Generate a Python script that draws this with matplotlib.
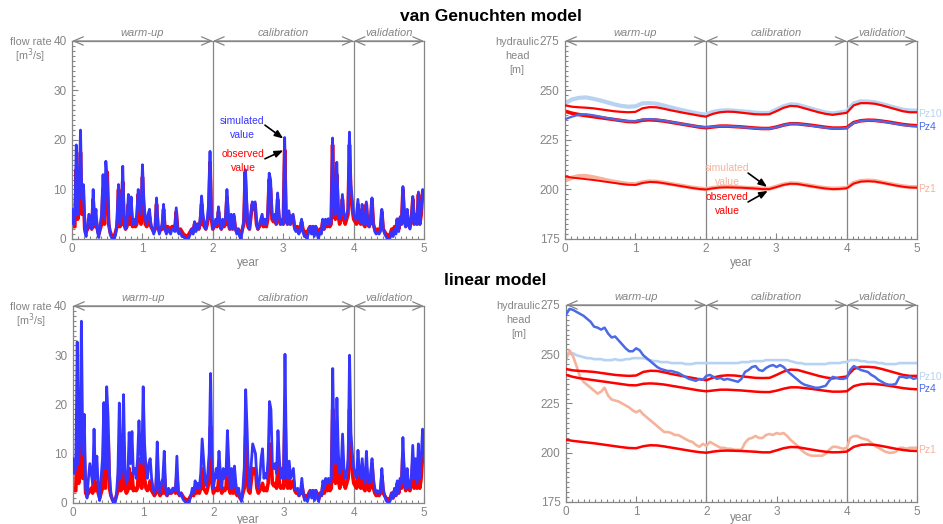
import numpy as np
import matplotlib
matplotlib.use("Agg")
import matplotlib.pyplot as plt
from matplotlib.ticker import MultipleLocator

plt.rcParams['font.family'] = ['Liberation Sans', 'DejaVu Sans']

# ---- flow rate series (weekly sampling, m3/s) ----
flow_years = np.linspace(0, 5, 251)
q_obs = [
    3, 2.5, 2.5, 14, 4, 6, 17.5, 5, 10, 2,
    1.5, 2, 2.5, 3, 2, 8, 2.5, 4, 2, 1,
    2, 3, 10, 3, 11, 13.5, 3, 1.5, 0.8, 0.5,
    0.5, 1.5, 2.5, 10, 2.5, 3, 11.5, 3, 2, 2.5,
    7, 3, 6, 2.5, 3, 2.5, 3, 9, 4, 3,
    12.5, 5, 3, 2.5, 3, 4.5, 2.5, 2, 1.5, 2,
    7, 2.5, 1.5, 2, 2, 6, 2, 1.5, 2.5, 2,
    2, 2.5, 2.5, 2, 5.5, 2, 1.5, 2, 1.5, 1,
    0.8, 0.5, 0.5, 1, 1.5, 2, 1.5, 3, 2, 3,
    2, 3, 7, 3, 2.5, 2, 3, 5, 15.5, 4,
    2, 2.5, 3, 2.5, 5.5, 3, 2, 3, 2.5, 3,
    8.5, 3, 2, 4, 2, 4.5, 2, 1.5, 2, 1,
    0.8, 2, 3, 13.5, 5, 2.5, 2, 4.5, 7, 6,
    7, 3, 2, 2.5, 3, 4, 2.5, 3, 2.5, 4,
    12, 10, 4, 3.5, 4, 3, 8, 4, 3, 3.5,
    3, 18, 4, 3, 5, 3, 4, 4.5, 2.5, 2,
    2.5, 1.5, 2, 3.5, 2, 1, 1.5, 0.8, 2, 2.5,
    1.5, 2.5, 1, 2.5, 1.5, 0.8, 2, 1.5, 3.5, 2,
    3.5, 2.5, 4, 2.5, 3, 19, 6, 4, 13, 5,
    3, 4, 8, 4, 3, 4, 5, 19, 9, 6,
    4, 3.5, 3, 7, 3.5, 3, 6, 3, 2.5, 7,
    3, 2.5, 3.5, 8, 3, 2, 1.5, 2, 1.5, 2,
    5.5, 2, 1.5, 1, 0.8, 0.5, 1, 2, 1, 2.5,
    1.5, 4, 2, 4, 3, 10, 4, 2.5, 5, 3,
    2.5, 4, 8, 3, 4, 3, 9, 3, 5, 9.5,
    9,
]
q_sim_vg = [
    6, 3, 4, 19, 5, 10, 22, 8, 11, 1.5,
    0.5, 3, 5, 4, 2, 10, 3, 6, 1.5, 0.3,
    3, 5, 13, 4, 15.7, 12, 4, 1, 0.3, 0,
    0, 1, 4, 11, 3, 5, 14.7, 4, 2, 3,
    9, 5, 8.5, 3, 4, 3, 5, 10, 6, 5,
    15, 8, 4, 3, 5, 6, 3, 2, 1, 2,
    8.3, 3, 1, 2, 3, 7, 2, 1, 2, 1.5,
    1, 2, 2, 1.5, 6.3, 1.5, 1, 1.5, 0.5, 0.5,
    0.2, 0, 0, 0.3, 1, 2, 1, 3.5, 1.5, 3,
    2, 4, 8.7, 5, 3, 2, 4, 7, 17.7, 5,
    2, 3, 4, 3, 6.5, 3.5, 2, 4, 3, 4,
    10, 5, 2, 5, 2, 5, 2, 1, 2, 0.5,
    0, 2, 4, 14, 8, 3, 2, 5, 7.5, 7,
    7.5, 3, 2, 3, 4, 5, 3, 4, 3, 5,
    13.3, 12, 5, 4, 5, 3, 9.3, 5, 3, 4,
    3, 20.5, 5, 3, 5.7, 3, 4.5, 5, 2, 1.5,
    2, 1, 1.5, 4, 1.5, 0.5, 0.5, 0, 1.5, 2.5,
    1, 2.5, 0.5, 2.5, 1, 0, 1.5, 1, 4, 2,
    4, 3, 4, 3, 3.5, 20.4, 7, 5, 15.5, 7,
    4, 5, 9, 5, 4, 5, 6, 21.6, 11, 8,
    5, 4, 4, 8, 4, 3.5, 7, 3, 3, 7.5,
    3, 2.5, 4, 8.3, 3, 1.5, 1, 1.5, 1, 1.5,
    6, 2, 1, 0.5, 0, 0, 0.3, 1.5, 0.5, 2,
    1, 4, 1.5, 4.5, 3, 10.6, 5, 2.5, 6, 3,
    2, 4, 8.6, 3, 5, 3, 9.5, 3, 6, 10,
    9,
]
q_sim_lin = [
    9, 6, 7, 32.7, 8, 14, 36.9, 10, 18, 3,
    1, 5, 8, 6, 4, 15, 5, 9.5, 3, 0.5,
    5, 9, 20.4, 7, 23.6, 17.5, 6, 2, 0.5, 0,
    0, 2, 6, 20.3, 5, 8, 22, 7, 4, 5,
    14.3, 8, 14.5, 6, 7, 5, 9, 16.7, 10, 8,
    23.6, 12, 7, 5, 8, 9, 5, 3, 2, 3,
    12.4, 5, 2, 4, 5, 10.5, 3, 1.5, 3, 2.5,
    2, 3, 3, 2.5, 9.5, 2.5, 1.5, 2, 1, 0.5,
    0.3, 0, 0, 0.5, 1.5, 3, 2, 4.5, 3, 4,
    3, 6, 13, 9, 5, 3.5, 6, 10, 26.3, 9,
    3, 5, 7, 5, 10.5, 6, 3, 7, 5, 6,
    14.7, 8, 3, 7, 3, 7.5, 4, 2, 3, 1,
    0.3, 3, 7, 23, 15, 5, 3, 8, 12, 11,
    10, 5, 3, 5, 9, 11, 5, 6, 5, 9,
    20.6, 19, 8, 7, 8, 6, 14.7, 9, 5, 7,
    5, 30.2, 9, 5, 8.5, 5, 6, 7, 3, 2.5,
    3, 1.5, 2, 5, 2, 0.5, 1, 0.3, 1.5, 2.5,
    1, 2.5, 0.5, 2.5, 1, 0.3, 2, 1.5, 4.5, 3,
    5, 4, 5, 4, 5, 27.3, 10, 8, 21.3, 10,
    6, 7, 14, 7, 5, 6, 9, 30, 14, 10,
    7, 6, 5, 10.7, 6, 5, 9, 5, 4, 10.5,
    5, 4, 6, 9, 5, 3, 2, 2.5, 2, 2,
    7, 3, 1.5, 0.5, 0.2, 0, 0.5, 2, 1, 3,
    1.5, 4.5, 2, 5, 4, 13.3, 6, 3, 7, 4,
    3, 5, 11.7, 5, 9, 4, 12, 5, 9, 15,
    10,
]

# ---- hydraulic heads, observed and van Genuchten model (m) ----
head_years = np.linspace(0, 5, 51)
pz10_obs = [
    242.5, 241.8, 241.5, 241.3, 241, 240.5, 240, 239.5, 239.2, 239,
    239.2, 241, 241.6, 241.5, 240.8, 240, 239.3, 238.6, 238, 237.3,
    236.8, 238.2, 239, 239.3, 239.2, 238.8, 238.4, 238, 237.9, 238,
    239.5, 241.2, 242.2, 242, 241, 240, 239, 238.2, 237.7, 238.2,
    238.7, 242.5, 243.6, 243.6, 243.3, 242.5, 241.5, 240.5, 239.5, 239,
    239,
]
pz10_vg = [
    243.5, 245.5, 246.3, 246.5, 245.8, 245, 244, 243, 242.2, 241.8,
    242, 243.5, 243.6, 243.3, 242.4, 241.5, 240.6, 239.8, 239, 238.3,
    237.8, 239.2, 239.8, 240, 239.8, 239.5, 239.2, 238.8, 238.6, 238.7,
    240.3, 242, 243, 242.8, 241.8, 240.8, 239.8, 238.9, 238.4, 238.9,
    239.4, 243.5, 244.5, 244.4, 244, 243.2, 242.2, 241.2, 240.3, 239.9,
    239.8,
]
pz4_obs = [
    239.5, 238.5, 237.8, 237.3, 236.8, 236.3, 235.8, 235.3, 234.8, 234.3,
    234.2, 235, 235.2, 235, 234.6, 234, 233.4, 232.8, 232.2, 231.6,
    231.2, 231.6, 232, 232, 231.8, 231.6, 231.3, 231, 230.8, 230.8,
    231.5, 232.5, 233.2, 233.2, 232.8, 232.4, 231.9, 231.4, 231, 231,
    231.2, 233.8, 234.7, 235, 234.9, 234.5, 234, 233.4, 232.8, 232.4,
    232.2,
]
pz4_vg = [
    235.5, 236.8, 237.8, 238, 237.5, 236.8, 236, 235.4, 234.9, 234.5,
    234.5, 235.3, 235.6, 235.3, 234.8, 234.2, 233.5, 232.9, 232.3, 231.7,
    231.4, 231.7, 232, 232, 231.8, 231.5, 231.2, 230.9, 230.7, 230.7,
    231.4, 232.4, 233.2, 233.2, 232.7, 232.2, 231.7, 231.2, 230.8, 230.8,
    231, 233.6, 234.6, 234.9, 234.8, 234.4, 233.8, 233.2, 232.6, 232.1,
    231.9,
]
pz1_obs = [
    206.6, 206, 205.6, 205.2, 204.8, 204.3, 203.8, 203.3, 202.8, 202.4,
    202.3, 203.3, 203.8, 203.7, 203.2, 202.6, 202, 201.4, 200.8, 200.3,
    200, 200.6, 201, 201.1, 201, 200.9, 200.7, 200.5, 200.2, 200.2,
    201.2, 202.3, 202.9, 202.8, 202.2, 201.6, 201, 200.5, 200.2, 200.3,
    200.6, 203, 204, 204.2, 204, 203.4, 202.7, 202, 201.4, 201,
    200.9,
]
pz1_vg = [
    204.5, 206, 206.8, 206.8, 206.2, 205.4, 204.6, 203.9, 203.3, 202.8,
    202.7, 203.6, 204.1, 203.9, 203.4, 202.8, 202.2, 201.6, 201, 200.5,
    200.2, 200.8, 201.2, 201.3, 201.2, 201, 200.8, 200.6, 200.4, 200.4,
    201.4, 202.5, 203.1, 203, 202.4, 201.8, 201.2, 200.7, 200.4, 200.5,
    200.8, 203.3, 204.3, 204.5, 204.3, 203.6, 202.9, 202.2, 201.6, 201.2,
    201.2,
]

# ---- hydraulic heads, linear model (m) ----
lin_years = np.linspace(0, 5, 101)
pz10_lin = [
    249.5, 250.5, 250.5, 249.5, 249, 248.5, 248, 248, 247.5, 247.5,
    247.5, 247, 247, 247, 247.5, 247, 247, 247.5, 247.5, 248,
    248, 248, 248, 247.5, 247, 246.5, 246.5, 246, 246, 246,
    245.5, 245.5, 245.5, 245.5, 245, 245, 245, 245.5, 245.5, 245.5,
    245.5, 245.5, 245.5, 245.5, 245.5, 245.5, 245.5, 245.5, 245.5, 245.5,
    246, 246, 246, 246.5, 246.5, 246.5, 246.5, 247, 247, 247,
    247, 247, 247, 247, 246.5, 246, 245.5, 245.5, 245, 245,
    245, 245, 245, 245, 245, 245.5, 245.5, 245.5, 245.5, 246,
    246, 247, 247, 247, 246.5, 246.5, 246, 246, 246, 245.5,
    245.5, 245, 245, 245, 245, 245.5, 245.5, 245.5, 245.5, 245.5,
    245.5,
]
pz4_lin = [
    270, 273, 272.5, 271.5, 270.5, 269.5, 268, 266.5, 264, 263.5,
    262.5, 263.5, 260.5, 258.5, 259, 257, 255, 253, 251.5, 251.5,
    253, 252, 249.5, 248, 246.5, 245, 243.5, 242.5, 242, 241.5,
    241.5, 241, 240.5, 239.5, 238.5, 237.5, 237, 236.5, 237.5, 237,
    239, 239.5, 238.5, 237.5, 238, 237, 237.5, 237, 236.5, 236,
    237.5, 241, 242, 243.5, 244, 242, 241.5, 243, 244, 244.5,
    243.5, 244.5, 243.5, 241.5, 240, 238.5, 237, 235.5, 234.5, 234,
    233.5, 233, 233, 233.5, 234, 236.5, 238.5, 238, 237.5, 237.5,
    238, 242, 244, 243, 242, 241.5, 241, 239.5, 238.5, 237,
    236, 235, 234.5, 234.5, 235, 238.5, 238.5, 238, 238.5, 237.5,
    238,
]
pz1_lin = [
    247, 252, 249, 244, 238.5, 236, 234.5, 233, 231.5, 230,
    231, 233, 229, 227, 226.5, 226, 225, 224, 223, 221.5,
    220.5, 221.5, 219.5, 218, 216.5, 215, 213.5, 212, 210.5, 210.5,
    210, 209, 209, 208, 207, 206, 205.5, 204, 203, 204.5,
    203.5, 205.5, 204.5, 203.5, 202.5, 202.5, 202, 202, 201.5, 201.5,
    201.5, 205, 207, 207.5, 208.5, 207.5, 207.5, 209, 209.5, 209,
    210, 209.5, 210, 208.5, 206.5, 205, 203.5, 201.5, 200, 199,
    198.5, 198.5, 198.5, 198.5, 199.5, 201.5, 203, 203, 202.5, 202,
    202.5, 207.5, 208.5, 208.5, 207.5, 207, 206.5, 205, 203.5, 202.5,
    201.5, 200.5, 200, 200, 200.5, 202.5, 202.5, 202, 202.5, 202.5,
    202.5,
]

periods = ['warm-up', 'calibration', 'validation']
period_bounds = [0, 2, 4, 5]

GRAY = '#858585'
RED = '#ff0000'
BLUE = '#3535ff'
PZ10_C = '#b8d3f2'
PZ4_C = '#4a6ae6'
PZ1_C = '#f6b39c'


def frame(ax, ymin, ymax, major, minor, ylabel_lines, ylabel_x, xlabel_pad=1):
    ax.set_xlim(0, 5)
    ax.set_ylim(ymin, ymax)
    ax.xaxis.set_major_locator(MultipleLocator(1))
    ax.xaxis.set_minor_locator(MultipleLocator(1 / 12))
    ax.yaxis.set_major_locator(MultipleLocator(major))
    ax.yaxis.set_minor_locator(MultipleLocator(minor))
    ax.tick_params(which='both', direction='in', colors=GRAY,
                   labelcolor=GRAY, labelsize=8.5, width=0.8)
    ax.tick_params(which='major', length=4)
    ax.tick_params(which='minor', length=2)
    ax.tick_params(axis='y', pad=4)
    ax.tick_params(axis='x', pad=3)
    for s in ax.spines.values():
        s.set_color(GRAY)
        s.set_linewidth(0.9)
    ax.set_xlabel('year', color=GRAY, fontsize=8.5, labelpad=xlabel_pad)
    for xb in period_bounds[1:-1]:
        ax.axvline(xb, color=GRAY, lw=0.9, zorder=1)
    for name, a, b in zip(periods, period_bounds[:-1], period_bounds[1:]):
        ax.annotate('', xy=(b, ymax), xytext=(a, ymax),
                    arrowprops=dict(arrowstyle='<->,head_length=0.7,head_width=0.3',
                                    color=GRAY, lw=0.9, shrinkA=0, shrinkB=0),
                    annotation_clip=False)
        ax.text((a + b) / 2, ymax + (ymax - ymin) * 0.015, name, color=GRAY,
                style='italic', fontsize=8, ha='center', va='bottom')
    # axis title written as stacked lines left of the top tick
    for k, line in enumerate(ylabel_lines):
        ax.text(ylabel_x, 0.995 - 0.07 * k, line, transform=ax.transAxes,
                ha='center', va='center', color=GRAY, fontsize=7.8)


fig = plt.figure(figsize=(9.43, 5.24), dpi=100)

ax1 = fig.add_axes([0.0764, 0.5439, 0.3733, 0.3779])
ax2 = fig.add_axes([0.5992, 0.5439, 0.3733, 0.3779])
ax3 = fig.add_axes([0.0774, 0.0401, 0.3722, 0.3760])
ax4 = fig.add_axes([0.6002, 0.0420, 0.3722, 0.3760])

flow_label = ['flow rate', '[m$^3$/s]']
head_label = ['hydraulic', 'head', '[m]']

# flow rate, van Genuchten
ax1.plot(flow_years, q_obs, color=RED, lw=2.6, zorder=2)
ax1.plot(flow_years, q_sim_vg, color=BLUE, lw=2.0, zorder=3)
frame(ax1, 0, 40, 10, 1, flow_label, -0.118)
ax1.text(2.415, 23.8, 'simulated', color=BLUE, fontsize=7.5, ha='center', va='center')
ax1.text(2.415, 21.0, 'value', color=BLUE, fontsize=7.5, ha='center', va='center')
ax1.text(2.43, 17.2, 'observed', color=RED, fontsize=7.5, ha='center', va='center')
ax1.text(2.43, 14.3, 'value', color=RED, fontsize=7.5, ha='center', va='center')
ax1.annotate('', xy=(3.0, 20.3), xytext=(2.74, 23.0),
             arrowprops=dict(arrowstyle='-|>,head_length=0.5,head_width=0.2',
                             color='black', lw=1.2, shrinkA=0, shrinkB=0))
ax1.annotate('', xy=(3.0, 17.9), xytext=(2.74, 16.2),
             arrowprops=dict(arrowstyle='-|>,head_length=0.5,head_width=0.2',
                             color='black', lw=1.2, shrinkA=0, shrinkB=0))

# hydraulic head, van Genuchten
ax2.plot(head_years, pz10_vg, color=PZ10_C, lw=3.0, zorder=2)
ax2.plot(head_years, pz10_obs, color=RED, lw=1.6, zorder=3)
ax2.plot(head_years, pz4_obs, color=RED, lw=2.6, zorder=2)
ax2.plot(head_years, pz4_vg, color=PZ4_C, lw=1.6, zorder=3)
ax2.plot(head_years, pz1_vg, color=PZ1_C, lw=3.0, zorder=2)
ax2.plot(head_years, pz1_obs, color=RED, lw=1.4, zorder=3)
frame(ax2, 175, 275, 25, 2.5, head_label, -0.136)
ax2.text(2.30, 210.9, 'simulated', color=PZ1_C, fontsize=7.5, ha='center', va='center')
ax2.text(2.30, 203.8, 'value', color=PZ1_C, fontsize=7.5, ha='center', va='center')
ax2.text(2.30, 196.2, 'observed', color=RED, fontsize=7.5, ha='center', va='center')
ax2.text(2.30, 189.1, 'value', color=RED, fontsize=7.5, ha='center', va='center')
ax2.annotate('', xy=(2.87, 201.3), xytext=(2.6, 208.3),
             arrowprops=dict(arrowstyle='-|>,head_length=0.5,head_width=0.2',
                             color='black', lw=1.2, shrinkA=0, shrinkB=0))
ax2.annotate('', xy=(2.88, 199.3), xytext=(2.6, 193.7),
             arrowprops=dict(arrowstyle='-|>,head_length=0.5,head_width=0.2',
                             color='black', lw=1.2, shrinkA=0, shrinkB=0))
for name, yv, c in [('Pz10', 238.1, PZ10_C), ('Pz4', 231.6, PZ4_C), ('Pz1', 200.3, PZ1_C)]:
    ax2.text(5.02, yv, name, color=c, fontsize=7.5, ha='left', va='center', clip_on=False)

# flow rate, linear
ax3.plot(flow_years, q_obs, color=RED, lw=2.6, zorder=2)
ax3.plot(flow_years, q_sim_lin, color=BLUE, lw=2.0, zorder=3)
frame(ax3, 0, 40, 10, 1, flow_label, -0.121, xlabel_pad=-4)

# hydraulic head, linear
ax4.plot(lin_years, pz10_lin, color=PZ10_C, lw=1.9, zorder=2)
ax4.plot(lin_years, pz1_lin, color=PZ1_C, lw=1.9, zorder=2)
ax4.plot(head_years, pz10_obs, color=RED, lw=1.8, zorder=3)
ax4.plot(head_years, pz4_obs, color=RED, lw=1.8, zorder=3)
ax4.plot(head_years, pz1_obs, color=RED, lw=1.8, zorder=3)
ax4.plot(lin_years, pz4_lin, color=PZ4_C, lw=1.8, zorder=4)
frame(ax4, 175, 275, 25, 2.5, head_label, -0.136, xlabel_pad=-4.5)
for name, yv, c in [('Pz10', 238.4, PZ10_C), ('Pz4', 232.4, PZ4_C), ('Pz1', 201.4, PZ1_C)]:
    ax4.text(5.02, yv, name, color=c, fontsize=7.5, ha='left', va='center', clip_on=False)

fig.text(0.521, 0.969, 'van Genuchten model', fontsize=12.5, fontweight='bold',
         ha='center', va='center')
fig.text(0.525, 0.465, 'linear model', fontsize=12.5, fontweight='bold',
         ha='center', va='center')

fig.savefig('out.png', dpi=100)
